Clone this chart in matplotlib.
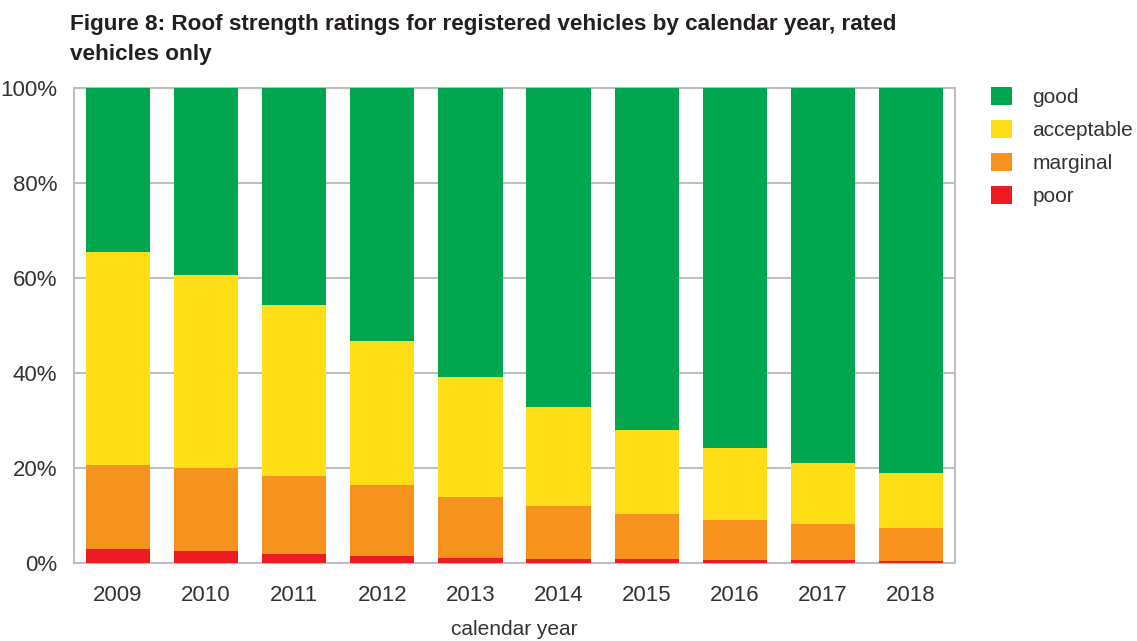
import matplotlib
matplotlib.use("Agg")
import matplotlib.pyplot as plt
from matplotlib.patches import Patch
import numpy as np

years = ["2009", "2010", "2011", "2012", "2013", "2014", "2015", "2016", "2017", "2018"]
poor = [3.0, 2.5, 1.9, 1.5, 1.1, 0.8, 0.8, 0.6, 0.6, 0.4]
marginal = [17.6, 17.5, 16.4, 14.9, 12.8, 11.2, 9.5, 8.5, 7.6, 7.0]
acceptable = [44.9, 40.6, 36.0, 30.3, 25.3, 20.8, 17.7, 15.1, 12.9, 11.5]
good = [100 - p - m - a for p, m, a in zip(poor, marginal, acceptable)]

colors = {"good": "#00a74f", "acceptable": "#ffdd17", "marginal": "#f6921e", "poor": "#ed1c24"}
FONT = ["Liberation Sans Narrow", "DejaVu Sans Condensed", "Liberation Sans", "DejaVu Sans"]
plt.rcParams["font.family"] = FONT

fig = plt.figure(figsize=(11.37, 6.41), dpi=100)
ax = fig.add_axes([0.065, 0.1217, 0.775, 0.741])

x = np.arange(len(years))
w = 0.73
b = np.zeros(len(years))
for name, vals in [("poor", poor), ("marginal", marginal), ("acceptable", acceptable), ("good", good)]:
    ax.bar(x, vals, w, bottom=b, color=colors[name], zorder=3, linewidth=0)
    b = b + np.array(vals)

ax.set_xlim(-0.5, len(years) - 0.5)
ax.set_ylim(0, 100)
ax.set_yticks([0, 20, 40, 60, 80, 100])
ax.set_yticklabels(["0%", "20%", "40%", "60%", "80%", "100%"], fontsize=16, color="#333333")
ax.set_xticks(x)
ax.set_xticklabels(years, fontsize=16, color="#333333")
ax.tick_params(length=0, pad=16)
ax.tick_params(axis="y", pad=12)
ax.yaxis.grid(True, color="#bfbfbf", linewidth=1.5, zorder=0)
for s in ax.spines.values():
    s.set_color("#bfbfbf")
    s.set_linewidth(1.5)
ax.set_xlabel("calendar year", fontsize=15, color="#333333", labelpad=10)

fig.text(0.062, 0.978, "Figure 8: Roof strength ratings for registered vehicles by calendar year, rated\nvehicles only",
         fontsize=16.2, fontweight="bold", color="#231f20", va="top", ha="left", linespacing=1.55)

handles = [Patch(facecolor=colors[k], edgecolor="none") for k in ["good", "acceptable", "marginal", "poor"]]
fig.legend(handles, ["good", "acceptable", "marginal", "poor"], loc="upper left",
           bbox_to_anchor=(0.855, 0.894), frameon=False, fontsize=15, handlelength=1.0,
           handleheight=1.0, handletextpad=1.0, labelspacing=0.6, labelcolor="#333333")

fig.savefig("out.png", dpi=100)
